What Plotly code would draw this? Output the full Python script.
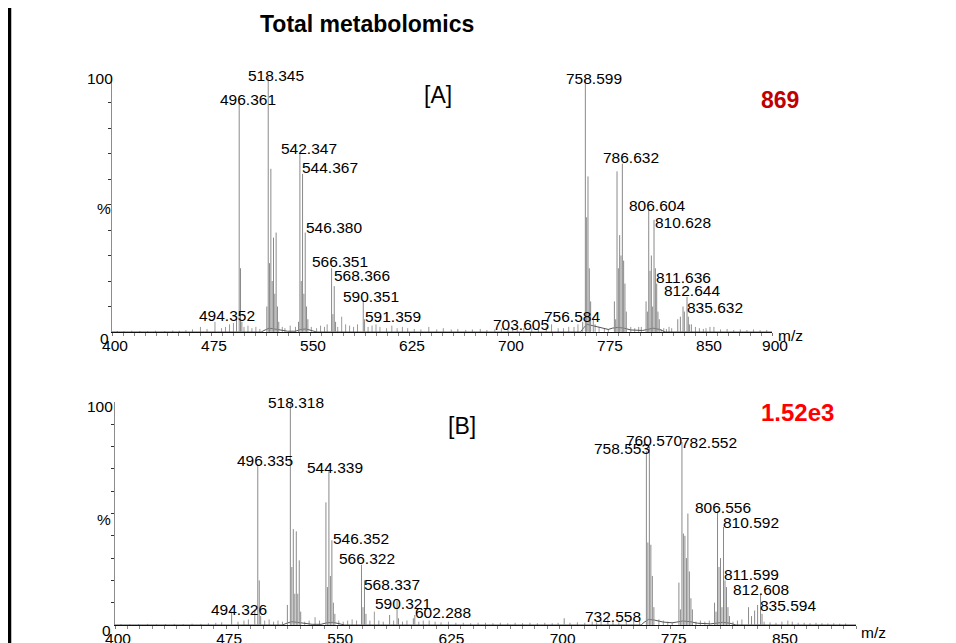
import plotly.graph_objects as go

# ---------------- data ----------------
TITLE = "Total metabolomics"

A_mz = [494.352, 496.361, 497.36, 498.37, 517.3, 518.345, 519.35, 520.35, 521.35, 522.35,
        523.35, 524.35, 525.35, 526.35, 541.3, 542.347, 543.35, 544.367, 545.37, 546.380,
        547.38, 548.38, 566.351, 567.35, 568.366, 569.37, 590.351, 591.359, 703.605, 756.584,
        758.599, 759.6, 760.6, 761.6, 762.6, 764.6, 780.6, 781.6, 782.6, 783.6,
        784.6, 785.6, 786.632, 787.6, 788.6, 789.6, 804.6, 805.6, 806.604, 807.6,
        808.6, 809.6, 810.628, 811.636, 812.644, 813.6, 814.6, 828.6, 830.6, 832.6,
        833.6, 835.632, 836.6, 837.6]
A_int = [5.5, 90, 25, 4, 10, 100, 27, 64, 20, 37,
         15, 39, 10, 4, 4, 70, 20, 62, 15, 39,
         10, 5, 25, 7, 18, 4, 12.5, 5, 2, 4,
         99, 45, 61, 25, 12, 5, 12, 5, 63, 25,
         38, 30, 66, 28, 19, 8, 12, 8, 48, 24,
         30, 10, 44, 25, 19, 8, 5, 5, 6, 10,
         8, 13.8, 6, 3]

A_noise_mz = [404, 409, 415, 421, 427, 433, 440, 446, 451, 456,
              461, 467, 472, 478, 483, 486, 489, 492, 500, 503,
              506, 509, 512, 529, 531, 535, 539, 551, 555, 558,
              561, 563, 571, 574, 577, 580, 583, 586, 594, 597,
              600, 603, 608, 612, 616, 620, 624, 629, 634, 640,
              646, 651, 657, 662, 668, 673, 679, 684, 690, 695,
              700, 707, 712, 718, 723, 729, 733, 738, 742, 746,
              750, 753, 766, 769, 773, 776, 793, 796, 799, 801,
              816, 818, 820, 822, 824, 839, 842, 845, 848, 850,
              853, 856, 861, 866, 871, 876, 881, 886, 891, 896]
A_noise_int = [0.4, 0.3, 0.5, 0.4, 0.3, 0.5, 0.4, 0.6, 0.5, 0.7,
               1.0, 2.0, 1.2, 4.0, 1.5, 2.0, 3.0, 3.5, 2.0, 2.5,
               1.5, 2.0, 1.2, 2.0, 1.5, 2.5, 2.0, 2.0, 1.5, 2.5,
               2.0, 3.0, 2.0, 6.0, 3.0, 2.5, 2.0, 3.0, 2.0, 2.5,
               3.0, 2.0, 1.5, 2.5, 1.5, 2.0, 1.5, 1.2, 1.0, 2.0,
               1.0, 1.5, 1.0, 1.2, 0.8, 1.0, 1.2, 0.8, 1.0, 1.5,
               1.2, 1.0, 1.5, 1.5, 1.2, 2.0, 3.0, 1.5, 1.5, 2.0,
               2.0, 3.0, 3.0, 2.0, 1.5, 1.2, 2.0, 1.5, 2.0, 2.0,
               1.0, 1.5, 1.2, 2.0, 1.5, 3.0, 2.0, 1.5, 1.2, 1.5,
               2.0, 2.0, 1.0, 1.2, 0.8, 1.0, 0.8, 1.0, 0.7, 0.8]

A_hump_mz = [400, 513, 516, 519, 523, 528, 533, 539, 543, 547, 551, 555, 755, 757,
             760, 764, 770, 776, 779, 783, 788, 793, 802, 806, 810, 815, 819, 900]
A_hump_int = [0, 0, 0.8, 1.5, 1.2, 0.8, 0.3, 0.3, 1.0, 1.2, 0.5, 0, 0, 1.5,
              3.0, 2.5, 1.5, 1.0, 1.5, 1.8, 1.5, 0.8, 0.6, 1.2, 1.5, 1.0, 0, 0]

A_labels = ["494.352", "496.361", "518.345", "542.347", "544.367", "546.380", "566.351",
            "568.366", "590.351", "591.359", "703.605", "756.584", "758.599", "786.632",
            "806.604", "810.628", "811.636", "812.644", "835.632"]

B_mz = [478.7, 494.326, 496.335, 497.34, 498.3, 516.3, 518.318, 519.32, 520.32, 521.33,
        522.33, 523.33, 524.33, 525.3, 542.33, 543.33, 544.339, 545.34, 546.352, 547.35,
        548.36, 566.322, 567.32, 568.337, 569.34, 585.3, 590.321, 591.3, 601.3, 602.288,
        703.1, 732.558, 758.553, 759.56, 760.570, 761.57, 762.57, 763.6, 780.5, 781.5,
        782.552, 783.55, 784.56, 785.56, 786.56, 787.57, 788.6, 789.6, 804.55, 805.55,
        806.556, 807.56, 808.57, 809.57, 810.592, 811.599, 812.608, 813.6, 814.6, 827.5,
        829.5, 831.6, 833.6, 835.594, 836.6]
B_int = [6, 7, 72, 20, 4, 9, 100, 26, 43, 14,
         42, 14, 29, 6, 55, 17, 69, 22, 38, 10,
         5, 27, 8, 20, 5, 4.5, 11, 3, 3, 4.5,
         3, 3, 78, 37, 80, 36, 22, 8, 19, 7,
         82, 41, 40, 30, 50, 24, 12, 7, 10, 6,
         51, 26, 30, 8, 44, 20, 17, 8, 4, 8,
         4, 6.5, 9, 13.5, 5]

B_noise_mz = [404, 410, 416, 422, 428, 434, 440, 446, 452, 458,
              463, 468, 472, 483, 487, 490, 501, 504, 507, 510,
              513, 528, 531, 535, 538, 551, 554, 557, 560, 563,
              572, 575, 578, 581, 588, 594, 597, 605, 608, 612,
              616, 620, 625, 630, 635, 640, 645, 650, 655, 660,
              665, 670, 675, 680, 685, 690, 695, 699, 707, 712,
              717, 722, 725, 728, 736, 740, 745, 750, 754, 767,
              770, 773, 776, 792, 795, 798, 801, 817, 820, 823,
              838, 842, 846, 850, 854, 857, 861, 865, 869, 873,
              877, 881, 885, 889, 893]
B_noise_int = [0.4, 0.3, 0.4, 0.5, 0.3, 0.4, 0.5, 0.4, 0.6, 0.5,
               0.8, 1.0, 1.2, 1.5, 2.0, 2.5, 2.0, 2.5, 1.5, 2.0,
               1.5, 1.5, 2.0, 3.5, 2.0, 2.0, 1.5, 2.0, 2.5, 2.0,
               2.0, 6.0, 2.0, 1.5, 2.0, 1.5, 2.0, 1.5, 2.0, 2.0,
               1.5, 1.2, 1.5, 1.0, 1.0, 0.8, 1.0, 1.0, 0.8, 1.0,
               0.8, 1.0, 0.8, 1.0, 0.8, 1.0, 0.8, 1.0, 1.0, 1.2,
               1.0, 1.5, 1.2, 2.0, 1.5, 1.2, 1.5, 2.0, 3.0, 2.5,
               2.0, 1.5, 1.2, 1.5, 2.0, 1.5, 2.0, 1.5, 2.0, 2.5,
               1.5, 1.2, 1.0, 1.5, 2.0, 1.5, 1.0, 1.0, 0.8, 1.0,
               0.8, 0.7, 0.8, 0.6, 0.7]

B_hump_mz = [400, 513, 516, 519, 523, 528, 533, 539, 543, 547, 551, 555, 755, 757,
             760, 764, 770, 776, 779, 783, 788, 793, 802, 806, 810, 815, 819, 900]
B_hump_int = [0, 0, 0.8, 1.5, 1.2, 0.8, 0.3, 0.3, 1.0, 1.2, 0.5, 0, 0, 1.2,
              2.5, 2.2, 1.3, 1.0, 1.3, 1.8, 1.5, 0.8, 0.5, 1.0, 1.2, 0.8, 0, 0]

B_labels = ["494.326", "496.335", "518.318", "544.339", "546.352", "566.322", "568.337",
            "590.321", "602.288", "732.558", "758.553", "760.570", "782.552", "806.556",
            "810.592", "811.599", "812.608", "835.594"]

A_ticks = [400, 475, 550, 625, 700, 775, 850, 900]
B_ticks = [400, 475, 550, 625, 700, 775, 850]
A_scale = "869"
B_scale = "1.52e3"

# ---------------- styling / layout ----------------
W, H = 956, 643
OFF = 8  # page body margin, compensated so positions match the window pixels
FONT = "Liberation Sans, Arial, sans-serif"
FS = 15.5
PEAK = "#8a8a8a"


def fx(p):
    return (p - OFF) / W


def fy(p):
    return 1 - (p - OFF) / H


# label pixel offsets (xshift, yshift) relative to the peak top
A_off = {"494.352": (-10, 2), "496.361": (9, 3), "518.345": (8, 2), "542.347": (9, 5),
         "544.367": (27, 6), "546.380": (29, 5), "566.351": (8, 7), "568.366": (28, 11),
         "590.351": (8, 4), "591.359": (28, 3), "703.605": (8, 2), "756.584": (-11, 5),
         "758.599": (9, 1), "786.632": (9, 6), "806.604": (8, 4), "810.628": (29, -3),
         "811.636": (28, -9), "812.644": (35, -7), "835.632": (28, -11)}
B_off = {"494.326": (-16, 0), "496.335": (7, 4), "518.318": (6, 0), "544.339": (6, 4),
         "546.352": (29, 2), "566.322": (6, 6), "568.337": (28, -4), "590.321": (6, -3),
         "602.288": (28, 2), "732.558": (5, 2), "758.553": (-24, 3), "760.570": (5, 6),
         "782.552": (27, 0), "806.556": (5, 4), "810.592": (27, 4), "811.599": (27, 6),
         "812.608": (35, -2), "835.594": (27, -11)}


def sticks(mz, inten):
    xs, ys = [], []
    for m, i in zip(mz, inten):
        xs += [m, m, None]
        ys += [0, i, None]
    return xs, ys


fig = go.Figure()
panels = [
    ("x", "y", A_mz, A_int, A_noise_mz, A_noise_int, A_hump_mz, A_hump_int, A_labels, A_off),
    ("x2", "y2", B_mz, B_int, B_noise_mz, B_noise_int, B_hump_mz, B_hump_int, B_labels, B_off),
]
annotations = []
for xa, ya, mz, it, nmz, nit, hmz, hit, labels, offs in panels:
    nx, ny = sticks(nmz, nit)
    fig.add_trace(go.Scatter(x=nx, y=ny, mode="lines", xaxis=xa, yaxis=ya,
                             line=dict(color="#9a9a9a", width=1), hoverinfo="skip"))
    fig.add_trace(go.Scatter(x=hmz, y=hit, mode="lines", xaxis=xa, yaxis=ya,
                             line=dict(color="#555555", width=1), hoverinfo="skip"))
    px_, py_ = sticks(mz, it)
    fig.add_trace(go.Scatter(x=px_, y=py_, mode="lines", xaxis=xa, yaxis=ya,
                             line=dict(color=PEAK, width=1), hoverinfo="skip"))
    for lab in labels:
        v = float(lab)
        idx = min(range(len(mz)), key=lambda k: abs(mz[k] - v))
        dx, dy = offs.get(lab, (7, 4))
        annotations.append(dict(x=mz[idx], y=it[idx], xref=xa, yref=ya, text=lab,
                                showarrow=False, xanchor="center", yanchor="middle",
                                xshift=dx, yshift=dy,
                                font=dict(family=FONT, size=FS, color="black")))


def pa(x, y, text, size=FS, color="black", bold=False):
    t = f"<b>{text}</b>" if bold else text
    annotations.append(dict(x=fx(x), y=fy(y), xref="paper", yref="paper", text=t,
                            showarrow=False, xanchor="center", yanchor="middle",
                            font=dict(family=FONT, size=size, color=color)))


pa(367, 24, TITLE, size=23, bold=True)
pa(438, 95, "[A]", size=23)
pa(462, 426, "[B]", size=23)
pa(780, 100, A_scale, size=23, color="#c00000", bold=True)
pa(797, 412, B_scale, size=24, color="#ff0000", bold=True)
pa(100, 79, "100")
pa(104, 208, "%")
pa(104, 338, "0")
pa(100, 406, "100")
pa(104, 519, "%")
pa(106, 630, "0")
pa(790, 335, "m/z")
pa(873, 632, "m/z")


def xax(domain, ticks):
    return dict(domain=domain, range=[400, 900], showgrid=False, zeroline=False,
                showline=True, linecolor="#111111", linewidth=1, automargin=False,
                ticks="outside", ticklen=3, tickcolor="#777777", tickwidth=1,
                tickmode="array", tickvals=ticks, ticktext=[str(t) for t in ticks],
                ticklabelshift=3, ticklabelstandoff=-4,
                tickfont=dict(family=FONT, size=FS, color="black"),
                minor=dict(tick0=400, dtick=75 / 9, ticks="outside", ticklen=3,
                           tickcolor="#888888", showgrid=False))


def yax(domain, anchor):
    return dict(domain=domain, range=[0, 100], showgrid=False, zeroline=False,
                showline=True, linecolor="#8c8c8c", linewidth=1, anchor=anchor,
                automargin=False,
                ticks="outside", ticklen=3, tickcolor="#333333",
                tickmode="array", tickvals=[10, 20, 30, 40, 50, 60, 70, 80, 90],
                showticklabels=False)


xa1 = xax([fx(112), fx(772)], A_ticks)
xa1["anchor"] = "y"
xa2 = xax([fx(115), fx(856)], B_ticks)
xa2["anchor"] = "y2"

fig.update_layout(
    width=W, height=H, margin=dict(l=0, r=0, t=0, b=0, autoexpand=False),
    paper_bgcolor="white", plot_bgcolor="white", showlegend=False,
    xaxis=xa1, yaxis=yax([fy(332), fy(77)], "x"),
    xaxis2=xa2, yaxis2=yax([fy(625), fy(402)], "x2"),
    annotations=annotations,
    shapes=[dict(type="line", xref="paper", yref="paper", x0=fx(9.5), x1=fx(9.5),
                 y0=0, y1=1, line=dict(color="black", width=3.5))],
)

fig.write_html("out.html")
